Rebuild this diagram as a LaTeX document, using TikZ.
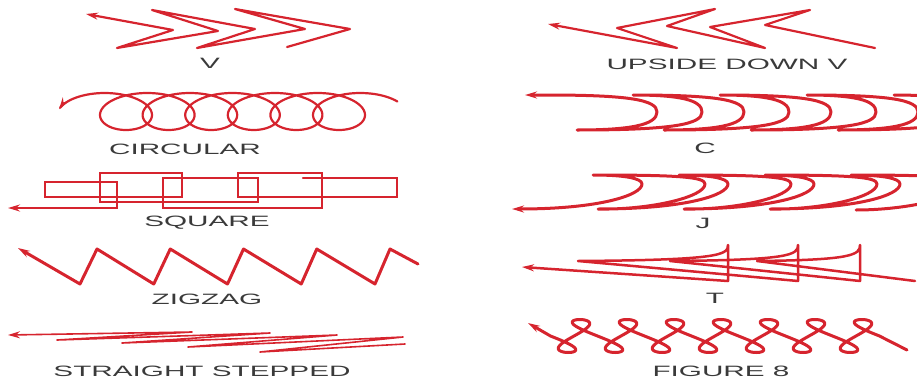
\documentclass[tikz,border=0pt]{standalone}
\usepackage{fontspec}
\usepackage{tikz}
\usetikzlibrary{arrows.meta}
\newfontfamily\capfont[FakeStretch=1.98]{Liberation Sans}
\definecolor{weldred}{RGB}{214,36,46}
\definecolor{capgray}{RGB}{58,58,58}

\begin{document}
\begin{tikzpicture}[x=1pt,y=-1pt,
    weld/.style={draw=weldred,line width=2.2pt,line join=round,line cap=round},
    thin weld/.style={weld,line width=1.6pt},
    heavy weld/.style={weld,line width=3pt},
    caption/.style={text=capgray,inner sep=0pt,font=\capfont\fontsize{15}{18}\selectfont},
    >={Stealth[length=12pt,width=7pt,inset=4pt]}]
  \useasboundingbox (0,0) rectangle (917,380);
  \clip (0,0) rectangle (917,380);

  % V
  \draw[weld,->] (287,47) -- (350,29) -- (235,9) -- (305,29) -- (197,48) -- (255,29)
    -- (152,10) -- (218,31) -- (117,48) -- (173,30) -- (86,14);
  \node[caption] (capV) at (210,63) {V};

  % upside down V
  \draw[weld,->] (875,48) -- (765,25) -- (810,10) -- (710,27) -- (765,48) -- (667,26)
    -- (715,9) -- (617,28) -- (677,48) -- (548,24);
  \node[caption] (capUV) at (727,64) {UPSIDE DOWN V};

  % circular
  \draw[weld,<-] plot[domain=-1.45:38.7,samples=480,smooth,variable=\t]
    ({104.7+6.78*\t+36*sin(\t r)},{111.5-18.5*cos(\t r)});
  \node[caption] (capCirc) at (185,149) {CIRCULAR};

  % C
  \draw[heavy weld,->] (894,95)
    \foreach \k in {3,2,1,0} {
      .. controls ({680+87*\k},95) and ({702+87*\k},100) .. ({702+87*\k},112)
      .. controls ({702+87*\k},124) and ({675+87*\k},130) .. ({577+87*\k},130)
      .. controls ({630+87*\k},130) and ({657+87*\k},125) .. ({657+87*\k},112)
      .. controls ({657+87*\k},100) and ({630+87*\k},95) .. ({546+87*\k},95)
    } -- (525,95);
  \node[caption] (capC) at (705,148) {C};

  % square
  \draw[weld,line join=miter,->] (303,178) -- (397,178) -- (397,197) -- (238,197) -- (238,173)
    -- (322,173) -- (322,208) -- (163,208) -- (163,178) -- (258,178) -- (258,202)
    -- (100,202) -- (100,173) -- (182,173) -- (182,197) -- (45,197) -- (45,182)
    -- (117,182) -- (117,208) -- (8,208);
  \node[caption] (capSq) at (207,223) {SQUARE};

  % J
  \draw[heavy weld,->] (856,210)
    \foreach \k in {3,2,1,0} {
      .. controls ({650+86*\k},210) and ({705+86*\k},197) .. ({705+86*\k},184)
      .. controls ({705+86*\k},177) and ({680+86*\k},175) .. ({593+86*\k},175)
      .. controls ({623+86*\k},175) and ({642+86*\k},178) .. ({642+86*\k},184)
      .. controls ({642+86*\k},195) and ({600+86*\k},209) .. ({512+86*\k},209)
    };
  \node[caption] (capJ) at (703,223) {J};

  % zigzag
  \draw[heavy weld,->] (418,264)
    \foreach \i in {4,3,2,1,0} { -- ({97+73.25*\i},249) -- ({80+73.75*\i},284) } -- (18,248);
  \node[caption] (capZ) at (207,299) {ZIGZAG};

  % T
  \draw[weld,line width=2.5pt,->] (915,281)
    \foreach \s/\v in {757/860,670/798,578/728} {
      -- (\s,261) .. controls ({\v-8},260) and (\v,255) .. (\v,245) -- (\v,281)
    } -- (522,267);
  \node[caption] (capT) at (715,298) {T};

  % straight stepped
  \draw[thin weld,->] (405,344) -- (260,352) -- (403,337) -- (188,347) -- (337,335)
    -- (122,343) -- (270,333) -- (57,340) -- (192,332) -- (8,335);
  \node[caption] (capSt) at (202,371) {STRAIGHT STEPPED};

  % figure 8
  \draw[heavy weld,<-] (528,323) -- plot[domain=-3.1416:40.841,samples=500,smooth,variable=\u]
    ({574+7.48*\u+14*sin(2*\u r)-6*sin(\u r)},{336-16.5*sin(\u r)}) -- (907,350);
  \node[caption] (capF) at (721,371) {FIGURE 8};
\end{tikzpicture}
\end{document}
